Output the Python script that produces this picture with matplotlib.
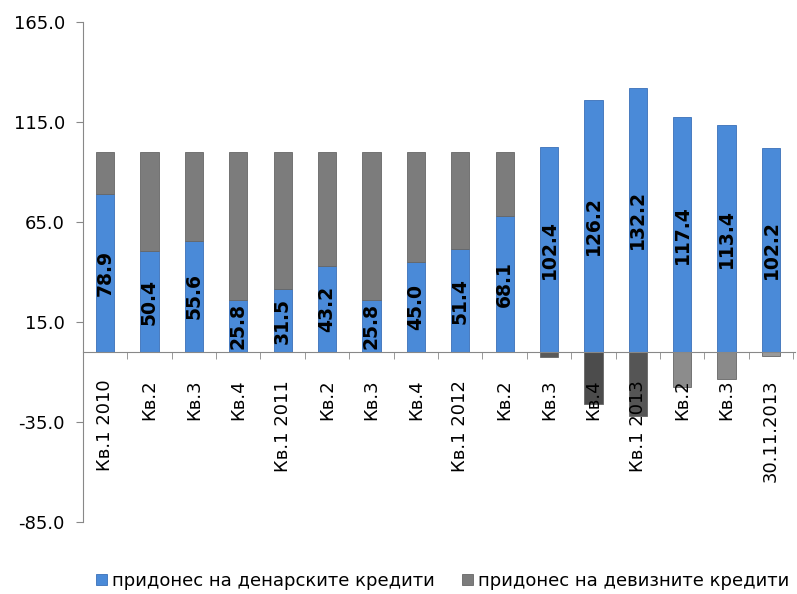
import numpy as np
import matplotlib.pyplot as plt

# quarters and contributions (percentage points)
labels = ['Кв.1 2010', 'Кв.2', 'Кв.3', 'Кв.4', 'Кв.1 2011', 'Кв.2', 'Кв.3', 'Кв.4',
          'Кв.1 2012', 'Кв.2', 'Кв.3', 'Кв.4', 'Кв.1 2013', 'Кв.2', 'Кв.3', '30.11.2013']
denar = [78.9, 50.4, 55.6, 25.8, 31.5, 43.2, 25.8, 45.0,
         51.4, 68.1, 102.4, 126.2, 132.2, 117.4, 113.4, 102.2]
foreign = [21.1, 49.6, 44.4, 74.2, 68.5, 56.8, 74.2, 55.0,
           48.6, 31.9, -2.4, -26.2, -32.2, -17.4, -13.4, -2.2]

blue = '#4a8ad8'
grays = ['#7c7c7c'] * 10 + ['#5a5a5a', '#4c4c4c', '#555555', '#8c8c8c', '#8a8a8a', '#9a9a9a']

fig = plt.figure(figsize=(7.97, 5.94), dpi=100)
ax = fig.add_axes([0.104, 0.121, 0.894, 0.842])

x = np.arange(len(labels))
w = 0.41
ax.bar(x, denar, w, color=blue, edgecolor='#3a70b8', linewidth=0.6, zorder=3,
       label='придонес на денарските кредити')
# foreign part stacks on top when positive, goes below zero when negative
bottoms = [d if f > 0 else 0 for d, f in zip(denar, foreign)]
ax.bar(x, foreign, w, bottom=bottoms, color=grays, edgecolor='#666666', linewidth=0.6,
       zorder=3, label='придонес на девизните кредити')

for xi, d in zip(x, denar):
    ax.text(xi, d / 2, f'{d:.1f}', rotation=90, ha='center', va='center',
            fontsize=13.5, fontweight='bold', color='black', zorder=6)

ax.set_ylim(-85, 165)
ax.set_yticks(np.arange(-85, 166, 50))
ax.set_yticklabels([f'{v:.1f}' for v in np.arange(-85, 166, 50)], fontsize=13)
ax.set_xlim(-0.5, len(labels) - 0.5 + 0.05)

ax.spines['top'].set_visible(False)
ax.spines['right'].set_visible(False)
ax.spines['bottom'].set_position(('data', 0))
ax.spines['bottom'].set_color('#888888')
ax.spines['left'].set_color('#888888')
ax.spines['bottom'].set_zorder(4)
ax.xaxis.set_zorder(5)

ax.set_xticks(x)
ax.set_xticklabels(labels, rotation=90, fontsize=13, va='top')
ax.tick_params(axis='x', which='major', length=0, pad=20)
ax.set_xticks(np.arange(-0.5, len(labels), 1), minor=True)
ax.tick_params(axis='x', which='minor', length=5, color='#888888', direction='out')
ax.tick_params(axis='y', length=5, color='#888888', pad=8)

ax.legend(loc='lower center', bbox_to_anchor=(0.505, -0.168), ncol=2, frameon=False,
          fontsize=13, handlelength=0.6, handleheight=0.6, handletextpad=0.3,
          columnspacing=1.5)

fig.savefig('out.png', dpi=100)
